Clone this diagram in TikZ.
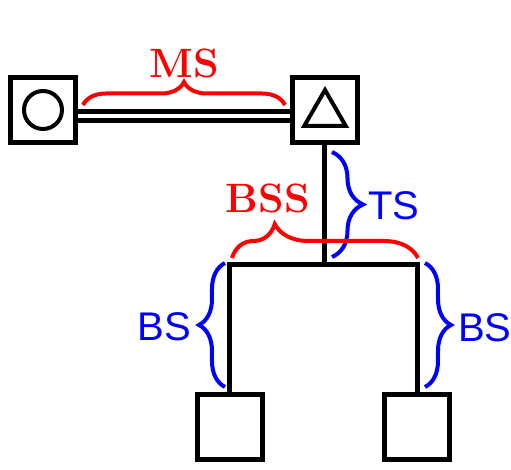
\documentclass[tikz,border=0pt]{standalone}
\usepackage{fontspec}
\newfontfamily\labelsans{Liberation Sans}
\usetikzlibrary{decorations.pathreplacing,shapes.geometric}

\begin{document}
\begin{tikzpicture}[
  x=0.5pt,y=-0.5pt,
  box/.style={draw,line width=2.5pt,minimum size=32.5pt,inner sep=0pt},
  symbol/.style={draw,line width=2pt,inner sep=0pt},
  tree/.style={line width=2.5pt},
  link/.style={double,line width=2.5pt,double distance=2pt},
  redbrace/.style={red,line width=2pt,decorate,decoration={brace,amplitude=#1}},
  bluebrace/.style={blue,line width=2pt,decorate,decoration={brace,amplitude=#1}},
  serlabel/.style={red,font=\fontsize{20.5}{24}\selectfont\bfseries},
  sanslabel/.style={blue,font=\fontsize{20}{24}\selectfont\labelsans}
]
  \useasboundingbox (0,0) rectangle (511,470);

  % top row
  \node[box] (circbox) at (43,110) {};
  \node[symbol,circle,minimum size=19pt] (circ) at (circbox) {};
  \node[box] (tribox) at (325,110) {};
  \node[symbol,regular polygon,regular polygon sides=3,minimum size=24pt] (tri) at (325,114) {};
  \draw[link] ([yshift=-3pt]circbox.east) -- ([yshift=-3pt]tribox.west);

  % tree below
  \node[box] (leftbox) at (230,427) {};
  \node[box] (rightbox) at (417.5,427) {};
  \coordinate (fork) at (325,265);
  \coordinate (forkl) at (leftbox.north |- fork);
  \coordinate (forkr) at (rightbox.north |- fork);
  \draw[tree] (tribox.south) -- (fork);
  \draw[tree] (leftbox.north) -- (forkl) -- (forkr) -- (rightbox.north);

  % braces
  \draw[redbrace=11.5pt] (83,105) -- (285,105);
  \draw[bluebrace=15.5pt] (332,152) -- (332,257);
  \draw[redbrace=17pt,decoration={aspect=0.23}] (232,258) -- (418,258);
  \draw[bluebrace=13pt] (225,387) -- (225,263);
  \draw[bluebrace=13pt] (425,263) -- (425,387);

  \node[serlabel] (mslabel) at (184.5,63.5) {MS};
  \node[serlabel] (bsslabel) at (268,198) {BSS};
  \node[sanslabel] (tslabel) at (394,205.5) {TS};
  \node[sanslabel] (bsleft) at (164,327) {BS};
  \node[sanslabel] (bsright) at (485,328) {BS};
\end{tikzpicture}
\end{document}
